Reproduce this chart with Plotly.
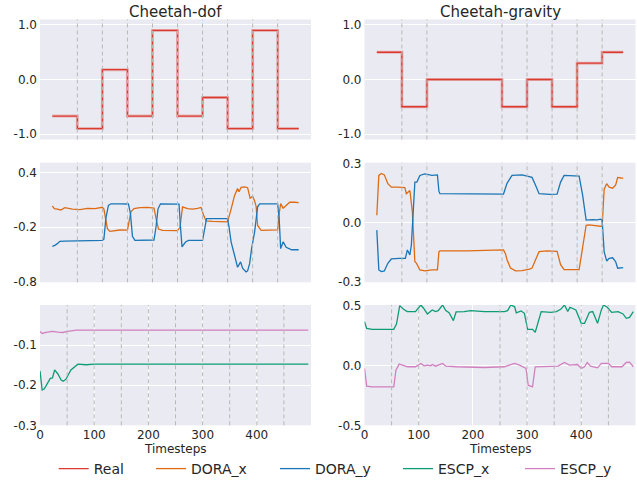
import plotly.graph_objects as go

# ---------------- data ----------------
titles = ["Cheetah-dof", "Cheetah-gravity"]
series_names = ["Real", "DORA_x", "DORA_y", "ESCP_x", "ESCP_y"]
colors = {"Real": "#dc3a2e", "DORA_x": "#de6c14", "DORA_y": "#1a76b6",
          "ESCP_x": "#0e9c76", "ESCP_y": "#d17fbf"}

x_end_top = 492
x_end_bottom = 495

# Real (step) task parameter
dof_change = [50, 100, 150, 200, 250, 300, 350, 400, 450]
dof_levels = [-0.67, -0.9, 0.18, -0.67, 0.9, -0.67, -0.33, -0.9, 0.9, -0.9]
grav_change = [50, 100, 250, 300, 350, 400, 450]
grav_levels = [0.5, -0.5, 0.0, -0.5, 0.0, -0.5, 0.3, 0.5]

# DORA, Cheetah-dof
dof_dora_x_t = [0, 4, 10, 17, 25, 40, 55, 70, 85, 100, 103, 107, 110, 115, 125, 135, 150, 153, 157, 163, 175, 190, 203, 207, 212, 220, 235, 250, 255, 260, 270, 280, 290, 297, 303, 307, 320, 335, 350, 357, 364, 370, 373, 377, 384, 390, 395, 400, 404, 407, 410, 417, 430, 450, 453, 456, 461, 467, 474, 484, 492]
dof_dora_x_v = [0.035, 0.005, 0.0, -0.01, 0.015, 0.0, -0.005, 0.008, 0.005, 0.02, 0.0, -0.15, -0.215, -0.245, -0.235, -0.23, -0.232, -0.15, -0.03, 0.005, 0.015, 0.018, 0.012, -0.1, -0.22, -0.235, -0.238, -0.237, -0.2, 0.025, 0.005, 0.0, 0.008, 0.018, -0.08, -0.13, -0.135, -0.138, -0.14, 0.0, 0.15, 0.225, 0.19, 0.24, 0.245, 0.235, 0.12, 0.14, 0.09, 0.03, -0.18, -0.235, -0.232, -0.228, -0.05, 0.06, 0.01, 0.04, 0.075, 0.075, 0.07]
dof_dora_y_t = [0, 5, 10, 15, 25, 50, 75, 100, 103, 107, 112, 117, 135, 152, 156, 160, 165, 185, 203, 207, 211, 216, 235, 253, 256, 259, 266, 272, 300, 304, 308, 330, 350, 353, 357, 364, 370, 376, 380, 387, 390, 394, 398, 404, 410, 414, 430, 450, 453, 456, 461, 467, 478, 492]
dof_dora_y_v = [-0.41, -0.4, -0.38, -0.355, -0.352, -0.35, -0.348, -0.345, -0.33, -0.1, 0.04, 0.058, 0.058, 0.056, -0.05, -0.3, -0.345, -0.345, -0.34, -0.2, 0.0, 0.058, 0.058, 0.055, -0.2, -0.415, -0.362, -0.345, -0.345, -0.2, -0.105, -0.105, -0.105, -0.2, -0.36, -0.51, -0.64, -0.58, -0.65, -0.69, -0.68, -0.6, -0.435, -0.25, 0.025, 0.058, 0.058, 0.058, -0.1, -0.435, -0.36, -0.42, -0.447, -0.447]

# DORA, Cheetah-gravity
grav_dora_x_t = [0, 4, 9, 15, 22, 29, 40, 56, 59, 63, 66, 71, 76, 79, 86, 96, 110, 121, 124, 126, 180, 253, 257, 260, 267, 277, 290, 305, 310, 317, 324, 340, 360, 367, 374, 404, 411, 418, 424, 438, 450, 454, 459, 464, 471, 477, 481, 488, 492]
grav_dora_x_v = [0.037, 0.24, 0.25, 0.243, 0.198, 0.18, 0.18, 0.178, 0.147, 0.155, 0.163, 0.054, -0.2, -0.207, -0.242, -0.247, -0.242, -0.242, -0.15, -0.145, -0.145, -0.14, -0.16, -0.19, -0.232, -0.247, -0.245, -0.238, -0.232, -0.19, -0.149, -0.145, -0.147, -0.215, -0.24, -0.24, -0.13, -0.014, -0.012, -0.017, -0.02, 0.17, 0.198, 0.18, 0.175, 0.192, 0.23, 0.227, 0.226]
grav_dora_y_t = [0, 4, 9, 15, 22, 29, 45, 57, 61, 66, 69, 72, 76, 80, 86, 96, 110, 121, 124, 126, 180, 253, 260, 270, 290, 310, 317, 324, 345, 360, 367, 374, 404, 411, 418, 430, 440, 447, 450, 454, 459, 464, 471, 477, 481, 492]
grav_dora_y_v = [-0.039, -0.242, -0.25, -0.247, -0.208, -0.186, -0.183, -0.183, -0.14, -0.165, -0.115, 0.0, 0.206, 0.206, 0.24, 0.248, 0.24, 0.243, 0.16, 0.147, 0.145, 0.145, 0.2, 0.24, 0.243, 0.23, 0.19, 0.147, 0.143, 0.145, 0.206, 0.24, 0.237, 0.14, 0.012, 0.015, 0.013, 0.017, 0.012, -0.149, -0.196, -0.183, -0.18, -0.2, -0.233, -0.23]

# ESCP, Cheetah-dof
dof_escp_x_t = [0, 4, 8, 14, 19, 23, 27, 33, 39, 43, 48, 57, 70, 85, 100, 495]
dof_escp_x_v = [-0.164, -0.212, -0.209, -0.195, -0.183, -0.182, -0.162, -0.172, -0.187, -0.19, -0.185, -0.162, -0.1475, -0.149, -0.1475, -0.1475]
dof_escp_y_t = [0, 4, 11, 23, 33, 42, 51, 67, 495]
dof_escp_y_v = [-0.066, -0.071, -0.0685, -0.066, -0.0675, -0.0685, -0.066, -0.0625, -0.0625]

# ESCP, Cheetah-gravity
grav_escp_x_t = [0, 4, 14, 54, 59, 65, 72, 79, 94, 104, 109, 116, 125, 131, 136, 144, 150, 156, 164, 169, 184, 196, 221, 258, 264, 270, 277, 280, 289, 295, 301, 310, 315, 320, 326, 344, 354, 362, 369, 375, 379, 390, 400, 406, 415, 421, 430, 437, 441, 448, 456, 468, 477, 483, 489, 496]
grav_escp_x_v = [0.366, 0.31, 0.302, 0.302, 0.346, 0.5, 0.469, 0.45, 0.45, 0.505, 0.478, 0.43, 0.464, 0.45, 0.458, 0.505, 0.458, 0.44, 0.374, 0.447, 0.45, 0.458, 0.45, 0.45, 0.458, 0.505, 0.49, 0.44, 0.455, 0.436, 0.302, 0.302, 0.277, 0.352, 0.45, 0.444, 0.45, 0.469, 0.505, 0.45, 0.486, 0.464, 0.352, 0.352, 0.444, 0.45, 0.352, 0.464, 0.505, 0.486, 0.444, 0.45, 0.43, 0.394, 0.402, 0.45]
grav_escp_y_t = [0, 4, 14, 54, 58, 64, 70, 79, 94, 104, 110, 116, 122, 125, 131, 144, 150, 159, 170, 221, 258, 267, 277, 286, 298, 302, 310, 315, 345, 357, 369, 378, 393, 400, 406, 411, 417, 430, 437, 450, 456, 475, 483, 489, 496]
grav_escp_y_v = [-0.025, -0.173, -0.179, -0.179, -0.04, 0.011, 0.003, -0.011, -0.011, 0.017, -0.003, 0.003, -0.003, 0.008, -0.006, 0.017, -0.006, -0.011, -0.011, -0.017, -0.011, 0.003, 0.017, 0.003, -0.025, -0.165, -0.179, -0.011, -0.011, -0.006, 0.025, 0.003, 0.008, -0.025, -0.011, 0.025, -0.006, -0.02, 0.017, 0.017, -0.011, -0.011, 0.025, 0.028, -0.011]

# tick labels
top_ticks = [-1.0, 0.0, 1.0]
mid_left_ticks = [-0.8, -0.2, 0.4]
mid_right_ticks = [-0.3, 0.0, 0.3]
bot_left_ticks = [-0.3, -0.2, -0.1]
bot_right_ticks = [-0.5, 0.0, 0.5]
x_ticks = [0, 100, 200, 300, 400]

# ---------------- figure ----------------
W, H = 637, 481
BG = "#EAEAF2"
TXT = "#262626"
FONT = "DejaVu Sans"

fig = go.Figure()

col_px = [(40, 311), (364.5, 635.5)]
row_px = [(19.5, 139.5), (162.7, 282.3), (305, 425.3)]

def xd(c):
    return [col_px[c][0] / W, col_px[c][1] / W]

def yd(r):
    return [1 - row_px[r][1] / H, 1 - row_px[r][0] / H]

def fmt(v):
    return "%.1f" % v

axes_spec = [
    # (row, col, yrange, yticks)
    (0, 0, [-1.1, 1.1], top_ticks),
    (0, 1, [-1.1, 1.1], top_ticks),
    (1, 0, [-0.805, 0.51], mid_left_ticks),
    (1, 1, [-0.305, 0.305], mid_right_ticks),
    (2, 0, [-0.3, 0.0], bot_left_ticks),
    (2, 1, [-0.5, 0.505], bot_right_ticks),
]

layout = {}
for i, (r, c, yr, yt) in enumerate(axes_spec, start=1):
    sx = "" if i == 1 else str(i)
    bottom = (r == 2)
    layout["xaxis" + sx] = dict(
        domain=xd(c), anchor="y" + sx,
        range=[0, 500] if bottom else [-24.6, 516.6],
        tickvals=x_ticks if bottom else [], ticktext=[str(v) for v in x_ticks] if bottom else [],
        showgrid=bottom, gridcolor="white", gridwidth=1,
        zeroline=False, showline=False, ticks="", automargin=False,
        ticklabelstandoff=1,
        tickfont=dict(family=FONT, size=12, color=TXT),
    )
    layout["yaxis" + sx] = dict(
        domain=yd(r), anchor="x" + sx, range=yr,
        tickvals=yt, ticktext=[fmt(v) for v in yt],
        showgrid=True, gridcolor="white", gridwidth=1.2,
        zeroline=False, showline=False, ticks="", automargin=False,
        ticklabelstandoff=2,
        tickfont=dict(family=FONT, size=12, color=TXT),
    )

fig.update_layout(**layout)

def add_line(ax, xs, ys, name, legend=None, shape="linear"):
    sx = "" if ax == 1 else str(ax)
    fig.add_trace(go.Scatter(
        x=xs, y=ys, mode="lines", name=name,
        line=dict(color=colors[name], width=1.3, shape=shape),
        xaxis="x" + sx, yaxis="y" + sx,
        showlegend=legend is not None, legend=legend if legend else "legend",
        hoverinfo="skip"))

def add_real(ax, changes, levels, legend=None):
    xs = [0] + changes + [x_end_top]
    ys = levels + [levels[-1]]
    sx = "" if ax == 1 else str(ax)
    fig.add_trace(go.Scatter(x=xs, y=ys, mode="lines", line=dict(color=colors["Real"], width=3, shape="hv"),
                             opacity=0.3, xaxis="x" + sx, yaxis="y" + sx, showlegend=False, hoverinfo="skip"))
    add_line(ax, xs, ys, "Real", legend, shape="hv")

add_real(1, dof_change, dof_levels, legend="legend")
add_real(2, grav_change, grav_levels)
add_line(3, dof_dora_x_t, dof_dora_x_v, "DORA_x", legend="legend2")
add_line(3, dof_dora_y_t, dof_dora_y_v, "DORA_y", legend="legend3")
add_line(4, grav_dora_x_t, grav_dora_x_v, "DORA_x")
add_line(4, grav_dora_y_t, grav_dora_y_v, "DORA_y")
add_line(5, dof_escp_x_t, dof_escp_x_v, "ESCP_x", legend="legend4")
add_line(5, dof_escp_y_t, dof_escp_y_v, "ESCP_y", legend="legend5")
add_line(6, grav_escp_x_t, grav_escp_x_v, "ESCP_x")
add_line(6, grav_escp_y_t, grav_escp_y_v, "ESCP_y")

# dashed task-change markers
shapes = []
for i, (r, c, yr, yt) in enumerate(axes_spec, start=1):
    sx = "" if i == 1 else str(i)
    for xc in (dof_change if c == 0 else grav_change):
        shapes.append(dict(type="line", xref="x" + sx, yref="y" + sx + " domain",
                           x0=xc, x1=xc, y0=0, y1=1, layer="above",
                           line=dict(color="#b8b8b8", width=1, dash="4px,3px")))

annotations = []
for c, t in enumerate(titles):
    annotations.append(dict(text=t, x=sum(col_px[c]) / 2 / W, y=1 - 12 / H, xref="paper", yref="paper",
                            xanchor="center", yanchor="middle", showarrow=False,
                            font=dict(family=FONT, size=15, color=TXT)))
    annotations.append(dict(text="Timesteps", x=sum(col_px[c]) / 2 / W, y=1 - 449 / H, xref="paper", yref="paper",
                            xanchor="center", yanchor="middle", showarrow=False,
                            font=dict(family=FONT, size=12, color=TXT)))

leg_x = [60.7, 158, 282, 405, 527]
leg_common = dict(orientation="h", yanchor="middle", y=1 - 469 / H, xanchor="left",
                  bgcolor="rgba(0,0,0,0)", borderwidth=0,
                  font=dict(family=FONT, size=14, color=TXT), itemwidth=30)
legends = {}
for k, lx in enumerate(leg_x):
    key = "legend" if k == 0 else "legend%d" % (k + 1)
    legends[key] = dict(leg_common, x=(lx - 7) / W)

fig.update_layout(
    width=W, height=H, margin=dict(l=0, r=0, t=0, b=0, autoexpand=False),
    paper_bgcolor="white", plot_bgcolor=BG,
    shapes=shapes, annotations=annotations,
    font=dict(family=FONT, color=TXT),
    **legends,
)

fig.write_html("out.html", config={"displayModeBar": False},
               post_script="document.body.style.margin='0';")
